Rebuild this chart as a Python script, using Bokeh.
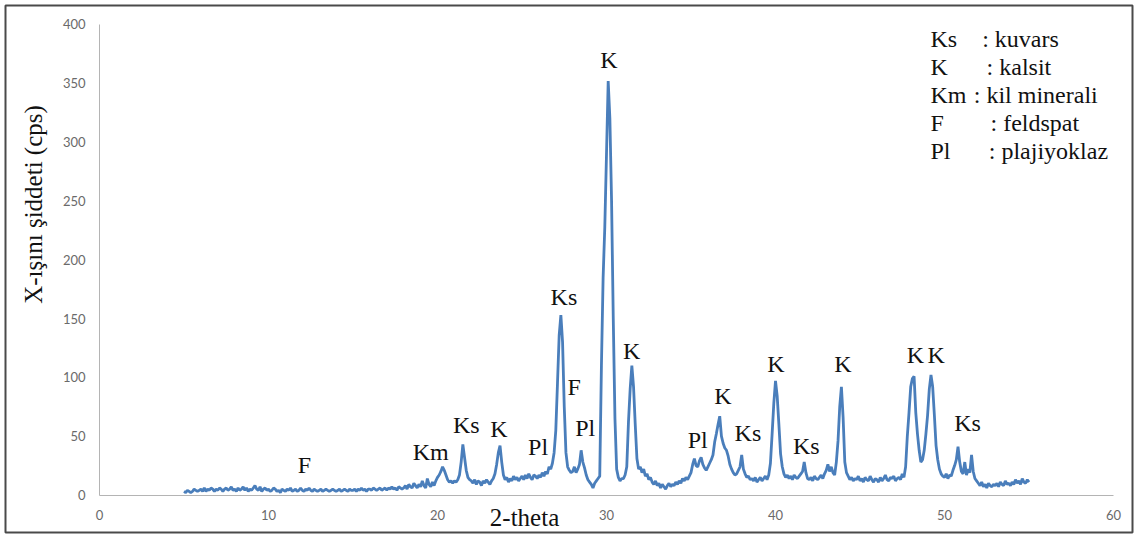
import math
from bokeh.plotting import figure
from bokeh.models import ColumnDataSource, Range1d, FixedTicker
from bokeh.core.properties import value
from bokeh.embed import file_html
from bokeh.resources import INLINE

# ---- data: 2-theta (degrees) and X-ray intensity (cps) ----
two_theta = [
    5.0, 5.1, 5.2, 5.3, 5.4, 5.5, 5.6, 5.7, 5.8, 5.9,
    6.0, 6.1, 6.2, 6.3, 6.4, 6.5, 6.6, 6.7, 6.8, 6.9,
    7.0, 7.1, 7.2, 7.3, 7.4, 7.5, 7.6, 7.7, 7.8, 7.9,
    8.0, 8.1, 8.2, 8.3, 8.4, 8.5, 8.6, 8.7, 8.8, 8.9,
    9.0, 9.1, 9.2, 9.3, 9.4, 9.5, 9.6, 9.7, 9.8, 9.9,
    10.0, 10.1, 10.2, 10.3, 10.4, 10.5, 10.6, 10.7, 10.8, 10.9,
    11.0, 11.1, 11.2, 11.3, 11.4, 11.5, 11.6, 11.7, 11.8, 11.9,
    12.0, 12.1, 12.2, 12.3, 12.4, 12.5, 12.6, 12.7, 12.8, 12.9,
    13.0, 13.1, 13.2, 13.3, 13.4, 13.5, 13.6, 13.7, 13.8, 13.9,
    14.0, 14.1, 14.2, 14.3, 14.4, 14.5, 14.6, 14.7, 14.8, 14.9,
    15.0, 15.1, 15.2, 15.3, 15.4, 15.5, 15.6, 15.7, 15.8, 15.9,
    16.0, 16.1, 16.2, 16.3, 16.4, 16.5, 16.6, 16.7, 16.8, 16.9,
    17.0, 17.1, 17.2, 17.3, 17.4, 17.5, 17.6, 17.7, 17.8, 17.9,
    18.0, 18.1, 18.2, 18.3, 18.4, 18.5, 18.6, 18.7, 18.8, 18.9,
    19.0, 19.1, 19.2, 19.3, 19.4, 19.5, 19.6, 19.7, 19.8, 19.9,
    20.0, 20.1, 20.2, 20.3, 20.4, 20.5, 20.6, 20.7, 20.8, 20.9,
    21.0, 21.1, 21.2, 21.3, 21.4, 21.5, 21.6, 21.7, 21.8, 21.9,
    22.0, 22.1, 22.2, 22.3, 22.4, 22.5, 22.6, 22.7, 22.8, 22.9,
    23.0, 23.1, 23.2, 23.3, 23.4, 23.5, 23.6, 23.7, 23.8, 23.9,
    24.0, 24.1, 24.2, 24.3, 24.4, 24.5, 24.6, 24.7, 24.8, 24.9,
    25.0, 25.1, 25.2, 25.3, 25.4, 25.5, 25.6, 25.7, 25.8, 25.9,
    26.0, 26.1, 26.2, 26.3, 26.4, 26.5, 26.6, 26.7, 26.8, 26.9,
    27.0, 27.1, 27.2, 27.3, 27.4, 27.5, 27.6, 27.7, 27.8, 27.9,
    28.0, 28.1, 28.2, 28.3, 28.4, 28.5, 28.6, 28.7, 28.8, 28.9,
    29.0, 29.1, 29.2, 29.3, 29.4, 29.5, 29.6, 29.7, 29.8, 29.9,
    30.0, 30.1, 30.2, 30.3, 30.4, 30.5, 30.6, 30.7, 30.8, 30.9,
    31.0, 31.1, 31.2, 31.3, 31.4, 31.5, 31.6, 31.7, 31.8, 31.9,
    32.0, 32.1, 32.2, 32.3, 32.4, 32.5, 32.6, 32.7, 32.8, 32.9,
    33.0, 33.1, 33.2, 33.3, 33.4, 33.5, 33.6, 33.7, 33.8, 33.9,
    34.0, 34.1, 34.2, 34.3, 34.4, 34.5, 34.6, 34.7, 34.8, 34.9,
    35.0, 35.1, 35.2, 35.3, 35.4, 35.5, 35.6, 35.7, 35.8, 35.9,
    36.0, 36.1, 36.2, 36.3, 36.4, 36.5, 36.6, 36.7, 36.8, 36.9,
    37.0, 37.1, 37.2, 37.3, 37.4, 37.5, 37.6, 37.7, 37.8, 37.9,
    38.0, 38.1, 38.2, 38.3, 38.4, 38.5, 38.6, 38.7, 38.8, 38.9,
    39.0, 39.1, 39.2, 39.3, 39.4, 39.5, 39.6, 39.7, 39.8, 39.9,
    40.0, 40.1, 40.2, 40.3, 40.4, 40.5, 40.6, 40.7, 40.8, 40.9,
    41.0, 41.1, 41.2, 41.3, 41.4, 41.5, 41.6, 41.7, 41.8, 41.9,
    42.0, 42.1, 42.2, 42.3, 42.4, 42.5, 42.6, 42.7, 42.8, 42.9,
    43.0, 43.1, 43.2, 43.3, 43.4, 43.5, 43.6, 43.7, 43.8, 43.9,
    44.0, 44.1, 44.2, 44.3, 44.4, 44.5, 44.6, 44.7, 44.8, 44.9,
    45.0, 45.1, 45.2, 45.3, 45.4, 45.5, 45.6, 45.7, 45.8, 45.9,
    46.0, 46.1, 46.2, 46.3, 46.4, 46.5, 46.6, 46.7, 46.8, 46.9,
    47.0, 47.1, 47.2, 47.3, 47.4, 47.5, 47.6, 47.7, 47.8, 47.9,
    48.0, 48.1, 48.2, 48.3, 48.4, 48.5, 48.6, 48.7, 48.8, 48.9,
    49.0, 49.1, 49.2, 49.3, 49.4, 49.5, 49.6, 49.7, 49.8, 49.9,
    50.0, 50.1, 50.2, 50.3, 50.4, 50.5, 50.6, 50.7, 50.8, 50.9,
    51.0, 51.1, 51.2, 51.3, 51.4, 51.5, 51.6, 51.7, 51.8, 51.9,
    52.0, 52.1, 52.2, 52.3, 52.4, 52.5, 52.6, 52.7, 52.8, 52.9,
    53.0, 53.1, 53.2, 53.3, 53.4, 53.5, 53.6, 53.7, 53.8, 53.9,
    54.0, 54.1, 54.2, 54.3, 54.4, 54.5, 54.6, 54.7, 54.8, 54.9,
    55.0,
]

intensity = [
    3, 2, 4, 3, 2, 3, 5, 4, 3, 4,
    5, 3, 6, 3, 5, 4, 6, 5, 3, 5,
    4, 6, 5, 3, 5, 6, 4, 5, 7, 4,
    5, 3, 6, 4, 5, 7, 4, 6, 3, 5,
    4, 6, 8, 5, 4, 7, 3, 5, 6, 4,
    5, 3, 4, 6, 5, 3, 4, 2, 5, 4,
    3, 5, 4, 6, 3, 4, 5, 3, 4, 6,
    4, 3, 5, 4, 6, 4, 3, 5, 4, 3,
    4, 5, 3, 4, 5, 4, 3, 4, 5, 4,
    3, 4, 5, 3, 4, 5, 4, 3, 5, 4,
    4, 5, 3, 5, 4, 6, 4, 5, 3, 5,
    5, 4, 6, 5, 4, 5, 6, 4, 5, 6,
    4, 6, 5, 7, 5, 6, 4, 7, 6, 5,
    6, 8, 5, 9, 7, 6, 10, 8, 6, 9,
    7, 12, 8, 6, 14, 9, 7, 11, 8, 12,
    15, 17, 20, 24, 21, 17, 13, 11, 12, 10,
    12, 11, 13, 17, 28, 43, 32, 21, 15, 13,
    12, 10, 13, 9, 12, 11, 8, 12, 10, 13,
    11, 9, 12, 14, 18, 26, 36, 42, 28, 17,
    13, 15, 11, 14, 12, 16, 13, 15, 12, 14,
    16, 13, 17, 14, 18, 15, 13, 17, 16, 14,
    17, 15, 19, 16, 20, 18, 24, 22, 27, 36,
    55, 95, 136, 153, 130, 75, 36, 24, 21, 19,
    20, 24, 19, 22, 26, 38, 28, 23, 17, 13,
    11, 9, 6, 10, 12, 14, 16, 110, 185, 228,
    290, 352, 320, 250, 150, 65, 22, 15, 12, 14,
    14, 17, 24, 62, 90, 110, 92, 60, 31, 22,
    24, 19, 22, 16, 18, 13, 15, 11, 9, 12,
    8, 10, 6, 9, 7, 5, 8, 10, 7, 9,
    8, 11, 9, 12, 10, 14, 12, 15, 13, 16,
    19, 26, 31, 25, 24, 29, 32, 26, 23, 21,
    24, 27, 30, 34, 45, 52, 60, 67, 50, 44,
    40, 38, 33, 26, 22, 19, 17, 18, 21, 24,
    34, 22, 18, 15, 16, 13, 14, 12, 15, 11,
    13, 15, 12, 14, 16, 13, 17, 27, 52, 78,
    97, 84, 60, 35, 24, 18, 15, 17, 14, 16,
    13, 17, 15, 14, 16, 18, 20, 28, 19, 14,
    13, 15, 12, 16, 14, 13, 15, 17, 14, 18,
    21, 26, 20, 24, 19, 17, 28, 46, 75, 92,
    66, 28, 19, 16, 13, 15, 12, 14, 13, 16,
    12, 14, 11, 15, 13, 12, 16, 13, 11, 14,
    13, 11, 15, 12, 14, 17, 13, 12, 15, 14,
    16, 12, 14, 15, 13, 18, 15, 24, 50, 70,
    92, 99, 101, 70, 52, 38, 28, 30, 38, 52,
    68, 90, 102, 92, 68, 42, 30, 22, 18, 16,
    15, 18, 14, 17, 16, 21, 25, 30, 41, 28,
    20, 18, 28, 17, 22, 19, 34, 20, 14, 12,
    10, 8, 11, 7, 9, 6, 10, 8, 7, 9,
    8, 10, 7, 11, 9, 8, 12, 9, 10, 8,
    11, 9, 13, 10, 12, 9, 14, 11, 10, 13,
    11,
]

# peak annotations (mineral symbols)
peak_text = ["F", "Km", "Ks", "K", "Pl", "Ks", "F", "Pl", "K", "K",
             "Pl", "K", "Ks", "K", "Ks", "K", "K", "K", "Ks"]
peak_x = [12.13, 19.6, 21.7, 23.63, 25.95, 27.48, 28.08, 28.74, 30.14, 31.49,
          35.4, 36.89, 38.37, 40.03, 41.82, 43.99, 48.28, 49.5, 51.36]
peak_y = [25.8, 36.8, 59.5, 56.1, 41.1, 168.0, 92.1, 56.7, 370.2, 122.5,
          46.8, 84.5, 52.4, 111.1, 41.9, 111.1, 119.1, 119.1, 60.9]

# legend key
legend_abbr = ["Ks", "K", "Km", "F", "Pl"]
legend_desc = [": kuvars", ": kalsit", ": kil minerali", ": feldspat", ": plajiyoklaz"]

x_ticks = [0, 10, 20, 30, 40, 50, 60]
y_ticks = [0, 50, 100, 150, 200, 250, 300, 350, 400]

x_title = "2-theta"
y_title = "X-ışını şiddeti (cps)"

# ---- figure: the frame (with its outline) is the chart border; axes pinned at 0 ----
W, H = 1134, 536
p = figure(width=W, height=H, output_backend="svg", toolbar_location=None,
           x_range=Range1d(-5.562, 61.124), y_range=Range1d(-31.88, 416.15),
           min_border=0, min_border_left=5, min_border_right=2,
           min_border_top=5, min_border_bottom=4)
p.outline_line_color = "#4a4a4a"
p.outline_line_width = 2
p.background_fill_color = "white"
p.border_fill_color = "white"
p.xgrid.grid_line_color = None
p.ygrid.grid_line_color = None

p.xaxis.fixed_location = 0
p.yaxis.fixed_location = 0
p.xaxis.bounds = (0, 60)
p.yaxis.bounds = (0, 400)

for ax in (p.xaxis[0], p.yaxis[0]):
    ax.axis_line_color = "#b4b4b4"
    ax.axis_line_width = 1
    ax.major_tick_line_color = None
    ax.minor_tick_line_color = None
    ax.major_tick_out = 0
    ax.major_tick_in = 0
    ax.major_label_text_font = "Lato"
    ax.major_label_text_font_size = "13px"
    ax.major_label_text_color = "#6a6a6a"

p.xaxis.ticker = FixedTicker(ticks=x_ticks)
p.yaxis.ticker = FixedTicker(ticks=y_ticks)
p.xaxis.major_label_standoff = 15
p.yaxis.major_label_standoff = 14

p.line(two_theta, intensity, line_color="#4a7ebb", line_width=2.8)

peak_src = ColumnDataSource(dict(x=peak_x, y=peak_y, text=peak_text))
p.text(x="x", y="y", text="text", source=peak_src,
       text_font=value("Liberation Serif"), text_font_size="24px",
       text_align="center", text_baseline="alphabetic", text_color="#111111")

# legend block placed in data space (top-right)
leg_x_abbr = [49.17] * 5
leg_x_desc = [52.23, 52.49, 51.73, 52.72, 52.62]
leg_y = [387.5, 363.6, 340.1, 316.0, 292.5]
p.text(x=leg_x_abbr, y=leg_y, text=legend_abbr,
       text_font=value("Liberation Serif"), text_font_size="24px",
       text_align="left", text_baseline="alphabetic", text_color="#111111")
p.text(x=leg_x_desc, y=leg_y, text=legend_desc,
       text_font=value("Liberation Serif"), text_font_size="24px",
       text_align="left", text_baseline="alphabetic", text_color="#111111")

# axis titles
p.text(x=[-3.9], y=[247], text=[y_title], angle=math.pi / 2,
       text_font=value("Liberation Serif"), text_font_size="25px",
       text_align="center", text_baseline="middle", text_color="#111111")
p.text(x=[25.15], y=[-19.1], text=[x_title],
       text_font=value("Liberation Serif"), text_font_size="25px",
       text_align="center", text_baseline="middle", text_color="#111111")

open("out.html", "w").write(file_html(p, INLINE))
